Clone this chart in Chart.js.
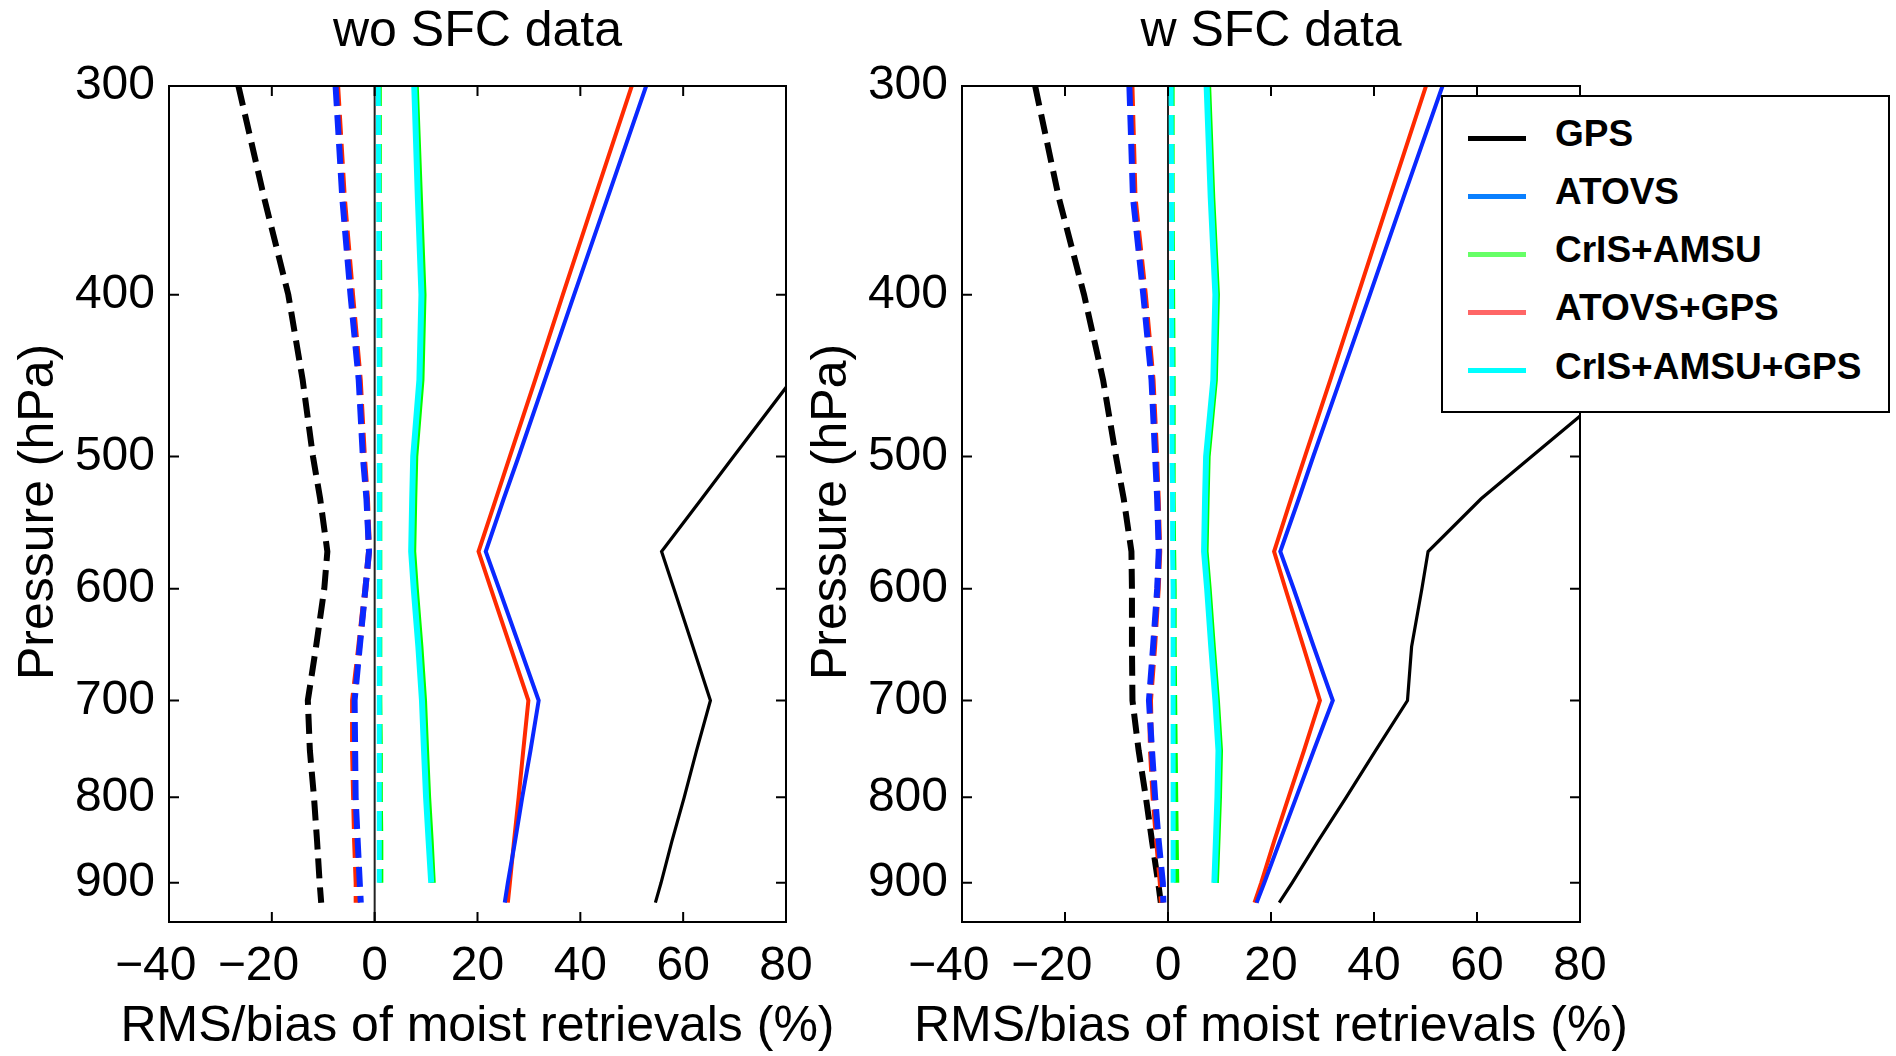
<!DOCTYPE html>
<html>
<head>
<meta charset="utf-8">
<script src="https://cdn.jsdelivr.net/npm/chart.js@4/dist/chart.umd.min.js"></script>
<style>
  html, body { margin:0; padding:0; background:#fff; width:1896px; height:1056px; overflow:hidden;
    font-family:"Liberation Sans", Arial, Helvetica, sans-serif; }
  #c1 { position:absolute; left:0; top:0; }
  #c2 { position:absolute; left:790px; top:0; }
  #legend { position:absolute; left:1441px; top:95px; width:449px; height:318px; box-sizing:border-box;
    border:2px solid #000; background:#fff; z-index:5; }
  .lg-line { position:absolute; left:25px; width:58px; height:5px; }
  .lg-text { position:absolute; left:112px; font-size:37px; line-height:37px; font-weight:bold; color:#000; white-space:nowrap; }
</style>
</head>
<body>
<canvas id="c1" width="900" height="1056"></canvas>
<canvas id="c2" width="1106" height="1056"></canvas>
<div id="legend"></div>
<script>
// ---------------- data ----------------
const panelTitles = ['wo SFC data', 'w SFC data'];
const xAxisTitle = 'RMS/bias of moist retrievals (%)';
const yAxisTitle = 'Pressure (hPa)';
const seriesNames = ['GPS', 'ATOVS', 'CrIS+AMSU', 'ATOVS+GPS', 'CrIS+AMSU+GPS'];
const xTickValues = [-40, -20, 0, 20, 40, 60, 80];
const pressureTicks = [300, 400, 500, 600, 700, 800, 900];
const pressureRange = [300, 950];
const pressureLevels = [300, 350, 400, 450, 500, 530, 570, 600, 650, 700, 750, 800, 850, 900, 925];

// left panel: without surface data (RMS = solid, bias = dashed)
const woRmsGPS       = [124, 107.9, 93.6, 81.1, 69.8, 63.6, 55.8, 58.2, 61.9, 65.3, 62.6, 60.2, 57.8, 55.7, 54.6];
const woRmsATOVS     = [52.8, 45.3, 38.8, 33.1, 28.0, 25.1, 21.6, 24.2, 28.2, 31.9, 30.3, 28.7, 27.3, 25.9, 25.3];
const woRmsCrIS      = [8.0, 8.8, 9.5, 9.1, 7.9, 7.7, 7.5, 8.0, 8.9, 9.6, 10.0, 10.4, 10.9, 11.3, null];
const woRmsATOVSGPS  = [50.0, 42.8, 36.6, 31.2, 26.3, 23.6, 20.2, 22.6, 26.4, 29.9, 28.9, 28.0, 27.1, 26.3, 25.9];
const woRmsCrISGPS   = [7.7, 8.4, 9.1, 8.7, 7.5, 7.3, 7.1, 7.6, 8.5, 9.2, 9.6, 10.0, 10.5, 11.0, null];
const woBiasGPS      = [-26.5, -21.5, -16.8, -14.0, -12.0, -10.6, -9.2, -9.8, -11.4, -13.0, -12.6, -11.8, -11.2, -10.7, -10.4];
const woBiasATOVS    = [-7.6, -6.3, -4.7, -3.1, -2.3, -1.6, -1.1, -1.8, -2.9, -3.9, -3.8, -3.7, -3.3, -2.9, -2.7];
const woBiasCrIS     = [0.9, 0.9, 1.0, 1.0, 1.0, 1.0, 1.0, 1.0, 1.0, 1.0, 1.1, 1.1, 1.2, 1.2, null];
const woBiasATOVSGPS = [-7.3, -6.0, -4.4, -2.9, -2.1, -1.5, -1.1, -1.8, -3.0, -4.2, -4.2, -4.0, -3.8, -3.5, -3.5];
const woBiasCrISGPS  = [0.7, 0.8, 0.8, 0.9, 0.9, 0.9, 0.9, 0.9, 0.9, 0.9, 0.9, 0.9, 0.9, 0.9, null];

// right panel: with surface data
const wRmsGPS        = [157, 130.9, 108.3, 88.4, 70.6, 60.8, 50.5, 49.3, 47.3, 46.5, 40.3, 34.6, 29.1, 24.1, 21.6];
const wRmsATOVS      = [53.3, 45.7, 39.2, 33.4, 28.2, 25.4, 21.8, 24.4, 28.3, 32.0, 28.3, 24.9, 21.7, 18.7, 17.2];
const wRmsCrIS       = [7.8, 8.6, 9.5, 9.1, 7.7, 7.5, 7.3, 7.9, 8.7, 9.5, 10.1, 9.9, 9.6, 9.3, null];
const wRmsATOVSGPS   = [50.1, 43.0, 36.9, 31.5, 26.6, 23.9, 20.6, 22.8, 26.3, 29.5, 26.4, 23.4, 20.6, 18.1, 16.8];
const wRmsCrISGPS    = [7.5, 8.3, 9.2, 8.8, 7.4, 7.2, 7.0, 7.6, 8.4, 9.2, 9.8, 9.6, 9.3, 9.0, null];
const wBiasGPS       = [-25.8, -21.2, -16.3, -12.6, -10.1, -8.6, -7.1, -7.0, -7.0, -6.9, -5.7, -4.3, -3.1, -1.9, -1.4];
const wBiasATOVS     = [-7.5, -6.8, -4.8, -3.2, -2.5, -2.1, -1.8, -2.1, -2.9, -3.7, -3.1, -2.5, -1.8, -1.0, -0.9];
const wBiasCrIS      = [0.8, 0.8, 0.9, 1.0, 1.0, 1.0, 1.1, 1.2, 1.2, 1.3, 1.4, 1.5, 1.6, 1.7, null];
const wBiasATOVSGPS  = [-7.1, -6.5, -4.5, -3.0, -2.3, -2.0, -1.7, -2.0, -2.7, -3.5, -3.3, -2.8, -2.1, -1.4, -1.2];
const wBiasCrISGPS   = [0.6, 0.7, 0.7, 0.8, 0.8, 0.9, 0.9, 1.0, 1.0, 1.0, 1.0, 1.0, 1.0, 1.0, null];

// ---------------- styles ----------------
const lineColors   = ['#000000', '#0a28ff', '#00ff00', '#ff2a00', '#00ffff'];
const legendColors = ['#000000', '#0a80ff', '#66ff66', '#ff6666', '#00ffff'];
const solidWidths  = [3.2, 4, 6, 4, 6];
const dashWidths   = [6, 6, 5, 6, 5];
const drawOrder    = [5, 2, 4, 3, 1]; // lower = on top
const dashPattern  = [20, 9];
const FONT = "'Liberation Sans', Arial, Helvetica, sans-serif";

Chart.defaults.font.family = FONT;
Chart.defaults.color = '#000';

function profile(values, idx, dashed) {
  const pts = [];
  pressureLevels.forEach((p, i) => { if (values[i] !== null) pts.push({ x: values[i], y: p }); });
  return {
    label: seriesNames[idx] + (dashed ? ' bias' : ' RMS'),
    data: pts,
    borderColor: lineColors[idx],
    backgroundColor: lineColors[idx],
    borderWidth: dashed ? dashWidths[idx] : solidWidths[idx],
    borderDash: dashed ? dashPattern : [],
    borderCapStyle: 'butt',
    pointRadius: 0,
    fill: false,
    tension: 0,
    clip: 0,
    order: drawOrder[idx] + (dashed ? 0 : 10)
  };
}

function tickText(v) {
  // true minus sign hanging left of the digits (digits stay centred on the tick)
  return v < 0 ? '\u2212' + String(-v) + '\u2007' : String(v);
}

const framePlugin = {
  id: 'frame',
  beforeDatasetsDraw(chart) {
    const { ctx, chartArea: a, scales } = chart;
    const x0 = scales.x.getPixelForValue(0);
    ctx.save();
    ctx.strokeStyle = '#222';
    ctx.lineWidth = 2;
    ctx.beginPath();
    ctx.moveTo(x0, a.top); ctx.lineTo(x0, a.bottom);
    ctx.stroke();
    ctx.restore();
  },
  afterDatasetsDraw(chart) {
    const { ctx, chartArea: a, scales } = chart;
    ctx.save();
    ctx.strokeStyle = '#000';
    ctx.lineWidth = 2;
    ctx.strokeRect(a.left, a.top, a.right - a.left, a.bottom - a.top);
    const tl = 10;
    ctx.beginPath();
    xTickValues.forEach(v => {
      if (v === xTickValues[0] || v === xTickValues[xTickValues.length - 1]) return;
      const px = scales.x.getPixelForValue(v);
      ctx.moveTo(px, a.bottom); ctx.lineTo(px, a.bottom - tl);
      ctx.moveTo(px, a.top); ctx.lineTo(px, a.top + tl);
    });
    pressureTicks.forEach(v => {
      if (v === pressureRange[0]) return;
      const py = scales.y.getPixelForValue(v);
      ctx.moveTo(a.left, py); ctx.lineTo(a.left + tl, py);
      ctx.moveTo(a.right, py); ctx.lineTo(a.right - tl, py);
    });
    ctx.stroke();
    ctx.restore();
  },
  afterDraw(chart) {
    // axis titles drawn without the width limit Chart.js applies to scale titles
    const { ctx, chartArea: a } = chart;
    ctx.save();
    ctx.fillStyle = '#000';
    ctx.font = '50px ' + FONT;
    ctx.textAlign = 'center';
    ctx.textBaseline = 'middle';
    ctx.fillText(xAxisTitle, (a.left + a.right) / 2, a.bottom + 105);
    ctx.translate(a.left - 130, (a.top + a.bottom) / 2 + 8);
    ctx.rotate(-Math.PI / 2);
    ctx.fillText(yAxisTitle, 0, 0);
    ctx.restore();
  }
};

function makeChart(canvasId, title, sets, yWidth, rightPad) {
  const datasets = [];
  sets.rms.forEach((vals, i) => datasets.push(profile(vals, i, false)));
  sets.bias.forEach((vals, i) => datasets.push(profile(vals, i, true)));
  return new Chart(document.getElementById(canvasId), {
    type: 'line',
    data: { datasets },
    plugins: [framePlugin],
    options: {
      indexAxis: 'y',
      responsive: false,
      animation: false,
      devicePixelRatio: 1,
      events: [],
      layout: { padding: { left: 0, right: rightPad, top: 0, bottom: 0 } },
      plugins: {
        legend: { display: false },
        tooltip: { enabled: false },
        title: { display: true, text: title, fullSize: false, color: '#000',
                 font: { size: 50, weight: 'normal', family: FONT }, padding: { top: 2, bottom: 24 } }
      },
      scales: {
        x: {
          type: 'linear', position: 'bottom', min: xTickValues[0], max: xTickValues[xTickValues.length - 1],
          afterBuildTicks(scale) { scale.ticks = xTickValues.map(v => ({ value: v })); },
          afterFit(scale) { scale.height = 134; },
          grid: { display: false, drawTicks: false },
          border: { display: false },
          ticks: { font: { size: 48, family: FONT }, color: '#000', padding: 16, autoSkip: false, maxRotation: 0,
                   callback: v => tickText(v) },
          title: { display: false }
        },
        y: {
          type: 'logarithmic', position: 'left', reverse: true, min: pressureRange[0], max: pressureRange[1],
          afterBuildTicks(scale) { scale.ticks = pressureTicks.map(v => ({ value: v })); },
          afterFit(scale) { scale.width = yWidth; },
          grid: { display: false, drawTicks: false },
          border: { display: false },
          ticks: { font: { size: 48, family: FONT }, color: '#000', padding: 14, autoSkip: false,
                   callback: v => String(v) },
          title: { display: false }
        }
      }
    }
  });
}

makeChart('c1', panelTitles[0], {
  rms:  [woRmsGPS, woRmsATOVS, woRmsCrIS, woRmsATOVSGPS, woRmsCrISGPS],
  bias: [woBiasGPS, woBiasATOVS, woBiasCrIS, woBiasATOVSGPS, woBiasCrISGPS]
}, 169, 114);

makeChart('c2', panelTitles[1], {
  rms:  [wRmsGPS, wRmsATOVS, wRmsCrIS, wRmsATOVSGPS, wRmsCrISGPS],
  bias: [wBiasGPS, wBiasATOVS, wBiasCrIS, wBiasATOVSGPS, wBiasCrISGPS]
}, 172, 316);

// legend (HTML text)
const legendEl = document.getElementById('legend');
const rowPitch = 58.2;
seriesNames.forEach((name, i) => {
  const ln = document.createElement('div');
  ln.className = 'lg-line';
  ln.style.top = (38.5 + i * rowPitch) + 'px';
  ln.style.background = legendColors[i];
  legendEl.appendChild(ln);
  const tx = document.createElement('div');
  tx.className = 'lg-text';
  tx.style.top = (17.7 + i * rowPitch) + 'px';
  tx.textContent = name;
  legendEl.appendChild(tx);
});
</script>
</body>
</html>
